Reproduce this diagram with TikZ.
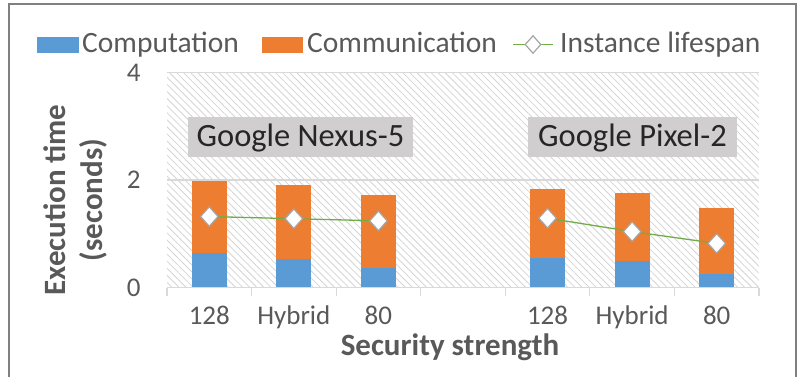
\documentclass[tikz,border=0pt]{standalone}
\usepackage{fontspec}
\setmainfont{Carlito}
\usetikzlibrary{shapes.geometric, patterns.meta}
\definecolor{compblue}{HTML}{5B9BD5}
\definecolor{commorange}{HTML}{ED7D31}
\definecolor{lifegreen}{HTML}{70AD47}
\definecolor{markgray}{HTML}{A5A5A5}
\definecolor{textgray}{HTML}{595959}
\definecolor{gridgray}{HTML}{D9D9D9}
\definecolor{hatchgray}{HTML}{D4D4D4}
\definecolor{labelgray}{HTML}{D0CECE}
\definecolor{framegray}{HTML}{808080}
\tikzset{>=stealth,
  compbar/.style={fill=compblue},
  commbar/.style={fill=commorange},
  lifespan/.style={diamond, draw=markgray, fill=white, line width=1.2pt, inner sep=0pt, minimum width=18pt, minimum height=20pt},
  ticklabel/.style={text=textgray, font=\fontsize{27}{27}\selectfont, inner sep=0pt},
  axistitle/.style={text=textgray, font=\bfseries\fontsize{31}{31}\selectfont, inner sep=0pt},
  legendtext/.style={text=textgray, font=\fontsize{29.5}{29.5}\selectfont, inner sep=0pt, anchor=base west},
  devlabel/.style={fill=labelgray, text=black!85, font=\fontsize{32.5}{32.5}\selectfont, text height=25pt, text depth=5pt, inner sep=5pt}
}

\begin{document}
\begin{tikzpicture}[x=1pt, y=-1pt]
    \useasboundingbox (0,0) rectangle (804,377);
    \draw [framegray, line width=1.2pt] (9,390) -- (9,4) -- (796,4) -- (796,390);

    \fill [compblue] (37,37) rectangle (79,53);
    \node [legendtext] (lcomp) at (82,53) {Computation};
    \fill [commorange] (262,37) rectangle (303,53);
    \node [legendtext] (lcomm) at (307,53) {Communication};
    \coordinate (lleft) at (513,44.5);
    \coordinate (lright) at (553,44.5);
    \draw [lifegreen, line width=1.3pt] (lleft) -- (lright);
    \node [lifespan, minimum width=16pt, minimum height=18pt] (ldia) at (533,44.5) {};
    \node [legendtext] (llife) at (560,53) {Instance lifespan};

    \begin{scope}[shift={(167,287.5)}, x=84.57pt, y=53.75pt]
        \pattern [pattern={Lines[angle=-45, distance=5pt, line width=0.8pt]}, pattern color=hatchgray] (0,0) rectangle (7,4);
        \draw [gridgray, line width=1.2pt] (0,2) -- (7,2) (0,4) -- (7,4);
        \foreach \i/\c/\t in {1/0.64/1.99, 2/0.525/1.91, 3/0.37/1.72, 5/0.555/1.83, 6/0.49/1.76, 7/0.25/1.485} {
            \fill [compbar] (\i-0.707,0) rectangle (\i-0.293,\c);
            \fill [commbar] (\i-0.707,\c) rectangle (\i-0.293,\t);
        }
        \draw [gridgray, line width=1.2pt] (0,0) -- (7,0);
        \foreach \k in {0,...,7}
            \draw [gridgray, line width=1.2pt] (\k,0) -- (\k,-0.15);

        \coordinate (p1) at (0.5,1.32);
        \coordinate (p2) at (1.5,1.28);
        \coordinate (p3) at (2.5,1.24);
        \coordinate (p4) at (4.5,1.29);
        \coordinate (p5) at (5.5,1.04);
        \coordinate (p6) at (6.5,0.82);
        \draw [lifegreen, line width=1.3pt] (p1) -- (p2) -- (p3);
        \draw [lifegreen, line width=1.3pt] (p4) -- (p5) -- (p6);
        \foreach \n in {1,...,6}
            \node [lifespan] (d\n) at (p\n) {};

        \foreach \v in {0,2,4}
            \node [ticklabel, anchor=east] (tick\v) at (-0.31,\v) {\v};
        \foreach \pos/\lab [count=\n] in {0.5/128, 1.5/Hybrid, 2.5/80, 4.5/128, 5.5/Hybrid, 6.5/80}
            \node [ticklabel, anchor=base] (cat\n) at (\pos,-0.68) {\lab};
    \end{scope}

    \node [devlabel, minimum width=225pt] (nexus) at (300.5,137) {Google Nexus-5};
    \node [devlabel, minimum width=209pt] (pixel) at (632.5,137) {Google Pixel-2};

    \node [axistitle, rotate=90, anchor=base] (ytitle) at (65,200) {Execution time};
    \node [axistitle, rotate=90, anchor=base] (yunit) at (102,200) {(seconds)};
    \node [axistitle, anchor=base] (xtitle) at (450,355) {Security strength};
\end{tikzpicture}
\end{document}
